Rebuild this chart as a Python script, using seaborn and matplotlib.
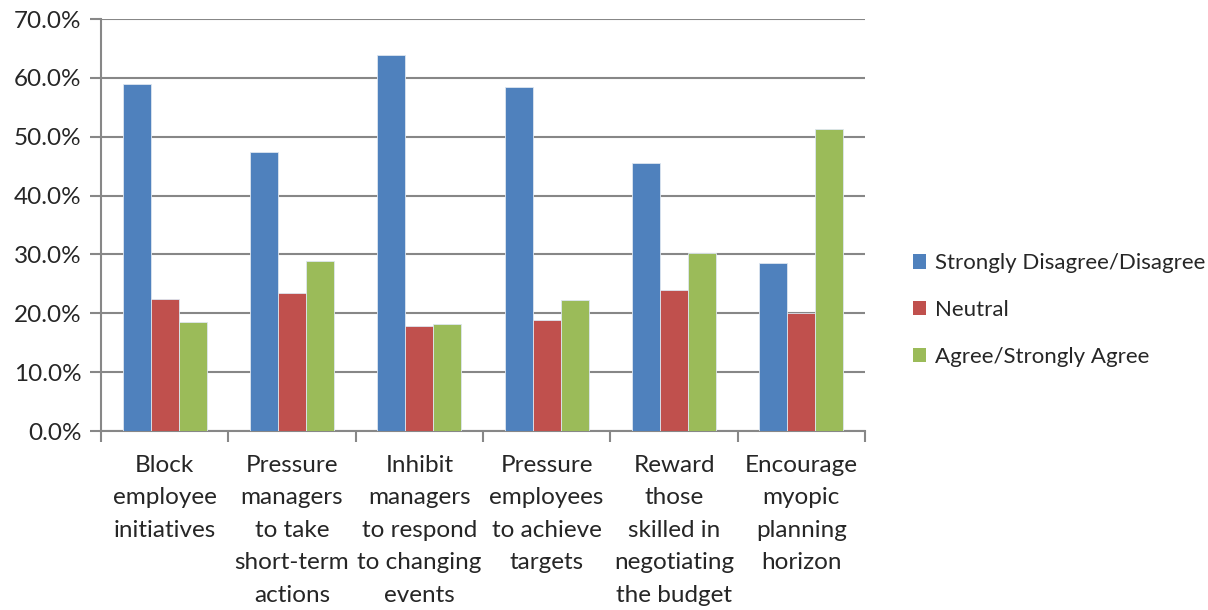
import matplotlib
matplotlib.use("Agg")
import matplotlib.pyplot as plt
import seaborn as sns
import pandas as pd
from matplotlib.ticker import FuncFormatter, MultipleLocator, FixedLocator
from matplotlib.patches import Patch

categories = [
    "Block\nemployee\ninitiatives",
    "Pressure\nmanagers\nto take\nshort-term\nactions",
    "Inhibit\nmanagers\nto respond\nto changing\nevents",
    "Pressure\nemployees\nto achieve\ntargets",
    "Reward\nthose\nskilled in\nnegotiating\nthe budget",
    "Encourage\nmyopic\nplanning\nhorizon",
]
series_names = ["Strongly Disagree/Disagree", "Neutral", "Agree/Strongly Agree"]
disagree = [59.0, 47.4, 63.9, 58.5, 45.5, 28.6]
neutral = [22.4, 23.4, 17.8, 18.9, 24.0, 20.0]
agree = [18.5, 28.8, 18.2, 22.3, 30.3, 51.3]
colors = ["#4F81BD", "#C0504D", "#9BBB59"]

rows = []
for name, vals in zip(series_names, [disagree, neutral, agree]):
    for c, v in zip(categories, vals):
        rows.append({"category": c, "series": name, "value": v})
df = pd.DataFrame(rows)

sns.set_style("white")
plt.rcParams["font.family"] = ["Lato", "DejaVu Sans"]

fig = plt.figure(figsize=(12.08, 6.10), dpi=100)
ax = fig.add_axes([101/1208, 1-431/610, 764/1208, 412/610])

sns.barplot(data=df, x="category", y="value", hue="series", order=categories,
            hue_order=series_names, palette=colors, width=0.66, ax=ax,
            errorbar=None, saturation=1, edgecolor="#dde6f0", linewidth=0.6,
            legend=False, zorder=3)

ax.set_ylim(0, 70)
ax.set_xlim(-0.5, len(categories) - 0.5)
ax.yaxis.set_major_locator(MultipleLocator(10))
ax.yaxis.set_major_formatter(FuncFormatter(lambda v, p: f"{v:.1f}%"))
ax.grid(axis="y", color="#878787", linewidth=1.5, zorder=0)
ax.set_axisbelow(True)
for s in ["top", "right"]:
    ax.spines[s].set_visible(False)
for s in ["left", "bottom"]:
    ax.spines[s].set_color("#878787")
    ax.spines[s].set_linewidth(1.5)

ax.set_xlabel("")
ax.set_ylabel("")
ax.tick_params(axis="y", which="major", length=8, width=1.5, color="#878787",
               labelsize=17.5, pad=6, left=True, direction="out")
ax.tick_params(axis="x", which="major", length=0, labelsize=17.5, pad=17)
ax.xaxis.set_minor_locator(FixedLocator([i - 0.5 for i in range(len(categories) + 1)]))
ax.tick_params(axis="x", which="minor", length=8, width=1.5, color="#878787",
               bottom=True, direction="out")
for lab in ax.get_xticklabels():
    lab.set_linespacing(1.68)
    lab.set_va("top")

handles = [Patch(facecolor=c, edgecolor="none") for c in colors]
fig.legend(handles, series_names, loc="center left",
           bbox_to_anchor=(893/1208, 1 - 310/610), frameon=False, fontsize=16,
           handlelength=0.6, handleheight=0.6, handletextpad=0.4,
           labelspacing=1.2)

fig.savefig("out.png", dpi=100)
